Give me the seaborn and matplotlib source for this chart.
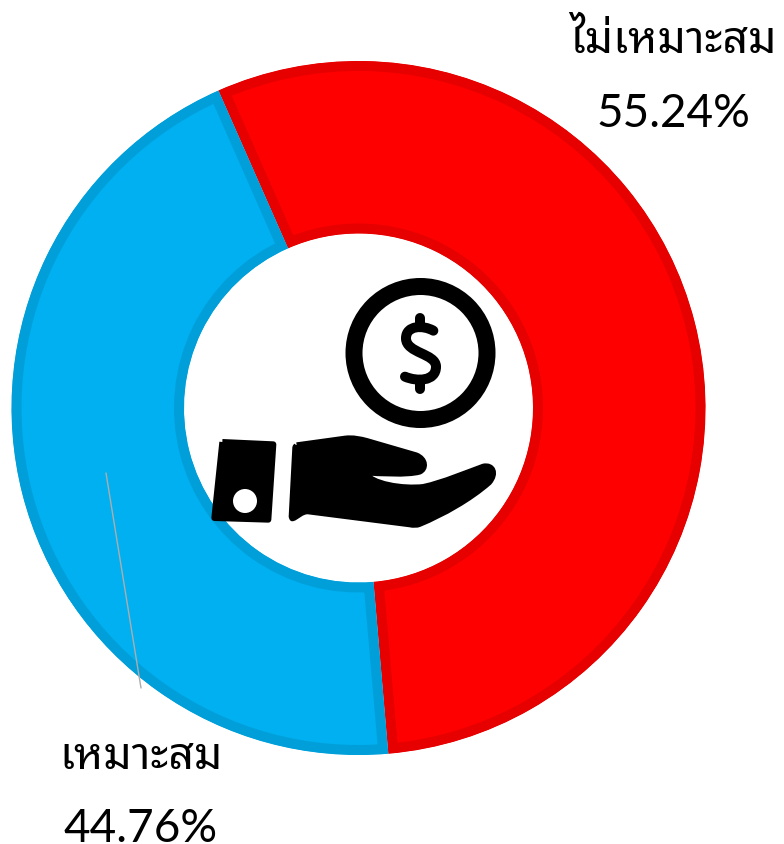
import matplotlib
matplotlib.use('Agg')
import matplotlib.pyplot as plt
import seaborn as sns
from matplotlib.path import Path
from matplotlib.patches import PathPatch, Circle

W, H = 784, 845

labels = ['ไม่เหมาะสม', 'เหมาะสม']
shares = [55.24, 44.76]
pct_labels = ['55.24%', '44.76%']
fills = ['#ff0000', '#00b0f0']
edges = ['#e60000', '#009fd9']

THAI = ['Noto Sans Thai Looped', 'DejaVu Sans']
NUM = ['Lato', 'DejaVu Sans']

sns.set_theme(style='white')
pal = sns.color_palette(fills)
edge_pal = sns.color_palette(edges)

fig = plt.figure(figsize=(W / 100, H / 100), dpi=100, facecolor='white')
ax = fig.add_axes([0, 0, 1, 1])

px = 72 / 100  # one pixel in points


def yy(p):
    return H - p


# the pie, in pixel sized data units
wedges, _ = ax.pie(shares, colors=pal, startangle=113.8, counterclock=False,
                   center=(358.5, yy(409)), radius=347,
                   wedgeprops=dict(width=172.5))
ax.set_xlim(0, W)
ax.set_ylim(0, H)
ax.set_aspect('equal')
ax.axis('off')

# stroke sits inside each slice, so double it and clip to the slice
for w, c in zip(wedges, edge_pal):
    w.set_edgecolor(c)
    w.set_linewidth(20 * px)
    w.set_joinstyle('miter')
    w.set_clip_on(True)
    w.set_clip_path(w.get_path(), w.get_transform())

# leader line
ax.plot([106, 141], [yy(474), yy(689)], color='#adadad', lw=1.4 * px, zorder=5)


# icon, traced in crop coords (3x, offset 190,270)
def z(x, y):
    return 190 + x / 3, H - (271 + y / 3)


def shape(cmds, **kw):
    verts, codes = [], []
    for code, pts in cmds:
        for p in pts:
            verts.append(z(*p))
            codes.append(code)
    ax.add_patch(PathPatch(Path(verts, codes), zorder=6, **kw))


ax.add_patch(Circle((420.5, yy(354)), 66.5, fc='none', ec='black', lw=17 * px, zorder=6))

M, L, C = Path.MOVETO, Path.LINETO, Path.CURVE4
dollar = dict(fc='none', ec='black', lw=10 * px, capstyle='round', joinstyle='round')
shape([(M, [(730, 182)]),
       (C, [(700, 165), (648, 165), (648, 205)]),
       (C, [(648, 250), (738, 250), (738, 290)]),
       (C, [(738, 335), (680, 335), (645, 320)])], **dollar)
shape([(M, [(690, 145)]), (L, [(690, 168)])], **dollar)
shape([(M, [(690, 335)]), (L, [(690, 358)])], **dollar)

solid = dict(fc='black', ec='black', lw=6 * px, joinstyle='round')
# card
shape([(M, [(97, 516)]), (L, [(250, 523), (235, 749), (73, 744), (97, 516)])], **solid)
ax.add_patch(Circle(z(165, 693), 12, fc='white', ec='none', zorder=7))
# hand
shape([(M, [(320, 526)]),
       (L, [(465, 506)]),
       (C, [(490, 503), (510, 508), (530, 513)]),
       (L, [(678, 556)]),
       (C, [(708, 568), (708, 597), (688, 605)]),
       (C, [(650, 615), (570, 610), (525, 607)]),
       (C, [(540, 643), (640, 658), (700, 651)]),
       (C, [(760, 638), (830, 608), (880, 590)]),
       (C, [(908, 584), (920, 610), (897, 637)]),
       (C, [(840, 687), (760, 732), (688, 762)]),
       (C, [(680, 765), (670, 765), (660, 763)]),
       (L, [(355, 724)]),
       (C, [(335, 722), (320, 742), (307, 745)]),
       (L, [(305, 740), (316, 532), (320, 526)])], **solid)

# labels
ax.text(672.5, yy(53), labels[0], family=THAI, fontsize=32, ha='center', va='baseline', color='black')
ax.text(673.5, yy(127), pct_labels[0], family=NUM, fontsize=33, ha='center', va='baseline', color='black')
ax.text(141, yy(769), labels[1], family=THAI, fontsize=32, ha='center', va='baseline', color='black')
ax.text(141, yy(842), pct_labels[1], family=NUM, fontsize=33, ha='center', va='baseline', color='black')

fig.savefig('out.png', dpi=100, facecolor='white')
